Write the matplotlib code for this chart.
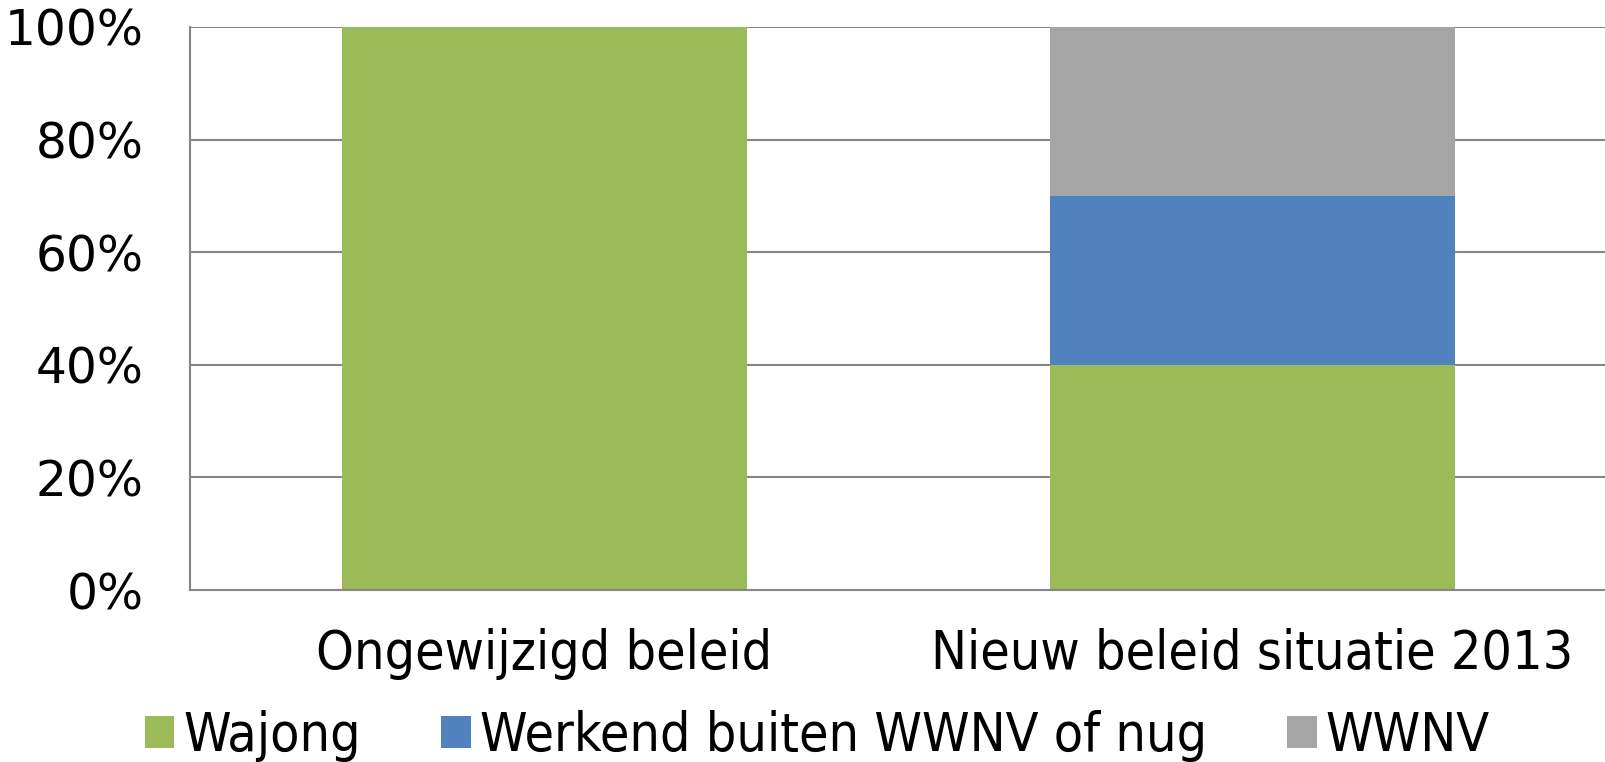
import matplotlib
matplotlib.use('Agg')
import matplotlib.pyplot as plt
from matplotlib.patches import Patch

# data (percent of group)
categories = ['Ongewijzigd beleid', 'Nieuw beleid situatie 2013']
series_names = ['Wajong', 'Werkend buiten WWNV of nug', 'WWNV']
wajong = [100, 40]
werkend = [0, 30]
wwnv = [0, 30]
yticks = [0, 20, 40, 60, 80, 100]

colors = ['#9BBB59', '#4F81BD', '#A5A5A5']
grid_col = '#868686'

plt.rcParams['font.family'] = 'DejaVu Sans'

fig = plt.figure(figsize=(16.06, 7.62), dpi=100)
ax = fig.add_axes([190.5 / 1606, 1 - 590 / 762, 1 - 190.5 / 1606, (590 - 27) / 762])

x = list(range(len(categories)))
w = 0.572
ax.bar(x, wajong, w, color=colors[0], zorder=3)
ax.bar(x, werkend, w, bottom=wajong, color=colors[1], zorder=3)
bottom2 = [a + b for a, b in zip(wajong, werkend)]
ax.bar(x, wwnv, w, bottom=bottom2, color=colors[2], zorder=3)

ax.set_xlim(-0.5, 1.5)
ax.set_ylim(0, 100)
ax.set_yticks(yticks)
ax.set_yticklabels([f'{t}%' for t in yticks], fontsize=35)
ax.set_xticks(x)
ax.set_xticklabels(categories, fontsize=38.5, fontstretch='condensed')
ax.tick_params(axis='y', length=0, pad=34)
ax.tick_params(axis='x', length=0, pad=27.5)

for t in yticks[1:]:
    ax.axhline(t, color=grid_col, lw=1.5, zorder=1)
for side in ['top', 'right']:
    ax.spines[side].set_visible(False)
for side in ['left', 'bottom']:
    ax.spines[side].set_color(grid_col)
    ax.spines[side].set_linewidth(1.5)
    ax.spines[side].set_zorder(4)

handles = [Patch(facecolor=c, edgecolor='none') for c in colors]
fig.legend(handles, series_names, loc='center', bbox_to_anchor=(0.509, 1 - 736 / 762),
           ncol=3, frameon=False, handlelength=0.55, handleheight=0.55,
           handletextpad=0.17, columnspacing=1.5, prop={'size': 38.5, 'stretch': 'condensed'})

fig.savefig('out.png', dpi=100)
